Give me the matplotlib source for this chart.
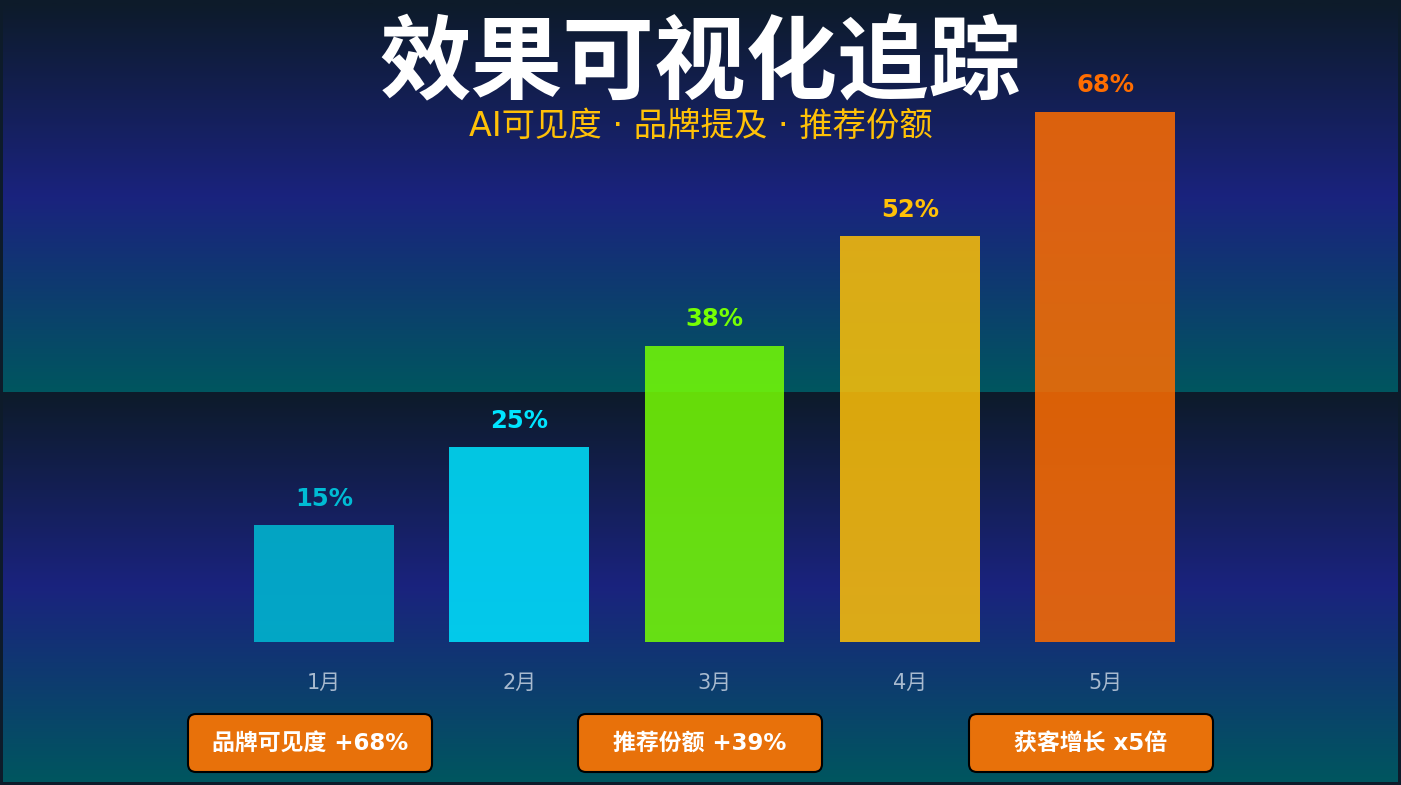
import numpy as np
import matplotlib
matplotlib.use("Agg")
import matplotlib.pyplot as plt
from matplotlib.colors import LinearSegmentedColormap
from matplotlib.patches import FancyBboxPatch

plt.rcParams['font.family'] = ['DejaVu Sans', 'Noto Sans CJK SC']

# data
months = ["1月", "2月", "3月", "4月", "5月"]
values = [15, 25, 38, 52, 68]
bar_colors = ["#00BCD4", "#00E5FF", "#76FF03", "#FFC107", "#FF6D00"]
title = "效果可视化追踪"
subtitle = "AI可见度 · 品牌提及 · 推荐份额"
badges = ["品牌可见度 +68%", "推荐份额 +39%", "获客增长 x5倍"]

W, H = 1401, 785
fig = plt.figure(figsize=(W / 100, H / 100), dpi=100, facecolor="#0d1b2a")

# background (pixel coords)
bg = fig.add_axes([0, 0, 1, 1])
bg.set_xlim(0, W)
bg.set_ylim(H, 0)
bg.axis("off")
cmap = LinearSegmentedColormap.from_list("bg", ["#0d1b2a", "#1a237e", "#00565f"])
grad = np.linspace(0, 1, 256).reshape(-1, 1)
bg.imshow(grad, cmap=cmap, aspect="auto", extent=(3, W - 3, 392, 3), zorder=0)
bg.imshow(grad, cmap=cmap, aspect="auto", extent=(3, W - 3, H - 3, 392), zorder=0)

# title
bg.text(W / 2, 65, title, color="white", fontsize=66, fontweight="bold",
        ha="center", va="center", family=["Noto Sans CJK SC"])
bg.text(W / 2, 126, subtitle, color="#FFC107", fontsize=24,
        ha="center", va="center")

# badges
badge_x = [310, 700, 1091]
for bx, txt in zip(badge_x, badges):
    box = FancyBboxPatch((bx - 122, 714), 244, 58,
                         boxstyle="round,pad=0,rounding_size=8",
                         facecolor="#E8710A", edgecolor="black", linewidth=1.5, zorder=3)
    bg.add_patch(box)
    bg.text(bx, 743, txt, color="white", fontsize=16.5, fontweight="bold",
            ha="center", va="center", zorder=4)

# bar chart
ax = fig.add_axes([177.4 / W, (H - 642) / H, (1251.6 - 177.4) / W, 624 / H])
ax.set_facecolor("none")
x = np.arange(len(months))
bars = ax.bar(x, values, width=0.716, color=bar_colors, alpha=0.85, zorder=2)
ax.set_xlim(-0.75, 4.75)
ax.set_ylim(0, 80)
for xi, v, c in zip(x, values, bar_colors):
    ax.annotate(f"{v}%", (xi, v), xytext=(0, 19), textcoords="offset points",
                ha="center", va="center", color=c, fontsize=17.5, fontweight="bold")
ax.set_xticks(x)
ax.set_xticklabels(months, color="#a8bacf", fontsize=15)
ax.tick_params(axis="x", length=0, pad=22)
ax.set_yticks([])
for s in ax.spines.values():
    s.set_visible(False)

fig.savefig("out.png", dpi=100, facecolor=fig.get_facecolor())
